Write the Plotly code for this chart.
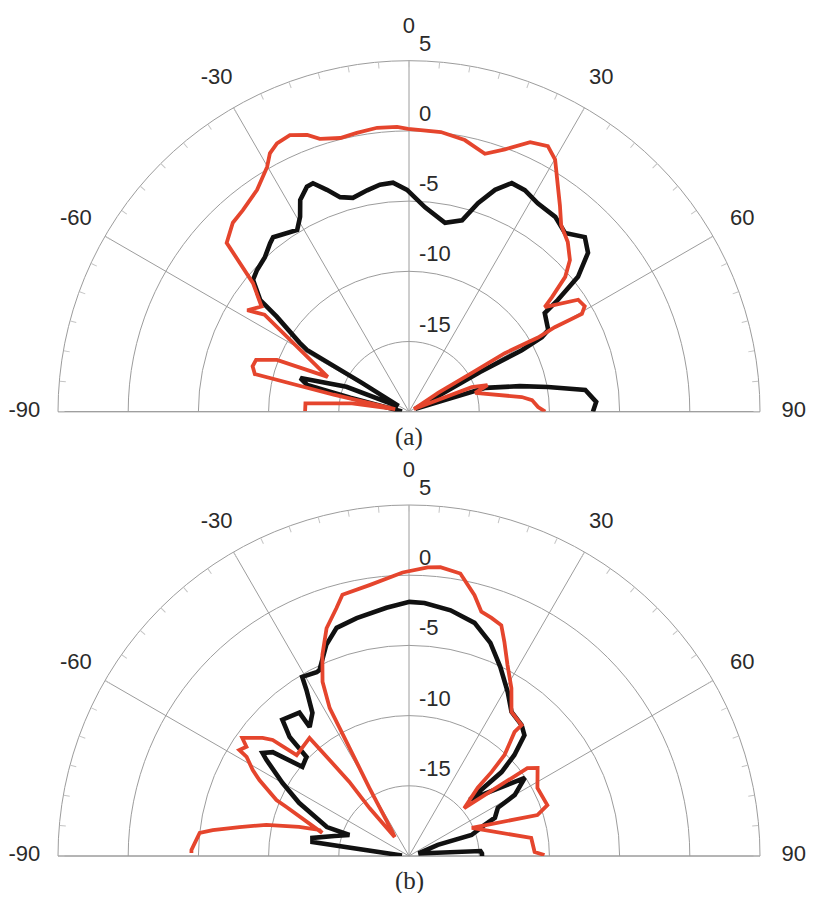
import plotly.graph_objects as go

# ---------------- data (angle in degrees, level in dB) ----------------
# panel (a)
theta_a_red = [-89.6, -85.4, -81.6, -79.3, -77.3, -76.3, -73.8, -71.3, -68.6, -66.8,
               -56.1, -57.9, -54.5, -50.5, -47.2, -43.0, -39.5, -34.4, -30.1, -28.3,
               -26.2, -23.3, -20.2, -18.1, -14.1, -10.6, -6.4, -2.4, -0.2, 6.5,
               11.6, 16.4, 20.1, 24.2, 27.6, 30.1, 33.3, 36.2, 39.2, 43.1,
               46.7, 49.2, 51.3, 52.4, 56.5, 59.0, 60.5, 59.9, 60.1, 58.6,
               58.4, 57.2, 62.0, 68.6, 71.3, 74.2, 82.6, 84.6, 87.9, 90.0]
r_a_red = [-12.6, -12.6, -15.9, -19.0, -14.5, -8.7, -8.4, -8.5, -9.9, -13.7,
           -7.6, -6.4, -7.1, -5.6, -2.3, -1.6, -1.4, -0.85, 0.15, 0.9,
           1.3, 1.45, 1.0, 0.45, 0.1, 0.2, 0.35, 0.3, 0.15, 0.05,
           -0.25, -0.85, -0.1, 1.05, 1.35, 0.75, -0.7, -1.8, -2.85, -3.45,
           -4.25, -5.3, -6.95, -7.8, -5.55, -5.4, -5.85, -8.0, -9.4, -12.0,
           -14.7, -17.5, -19.6, -15.2, -14.1, -15.1, -11.9, -11.2, -10.8, -10.3]

theta_a_black = [-88.0, -76.5, -75.3, -72.8, -68.3, -64.0, -60.5, -58.5, -58.8, -57.8,
                 -54.3, -53.1, -49.8, -47.0, -43.0, -39.5, -37.9, -34.3, -31.6, -29.2,
                 -27.2, -24.4, -22.8, -20.3, -17.8, -14.7, -10.7, -7.3, -4.0, -0.5,
                 4.5, 10.8, 15.5, 18.3, 21.2, 24.2, 27.6, 31.7, 36.9, 41.1,
                 45.2, 48.4, 51.4, 53.1, 54.0, 59.6, 60.7, 61.4, 60.8, 61.7,
                 66.0, 72.7, 77.0, 79.9, 83.0, 87.0, 90.0]
r_a_black = [-19.5, -15.7, -12.5, -11.9, -15.2, -19.0, -19.0, -16.0, -11.5, -10.8,
             -8.4, -6.75, -5.45, -5.2, -4.95, -4.45, -4.25, -4.6, -4.8, -4.1,
             -3.05, -2.4, -2.35, -3.15, -3.95, -4.25, -3.95, -3.7, -3.65, -4.2,
             -5.4, -6.3, -5.85, -4.35, -3.05, -2.15, -2.2, -2.55, -2.65, -3.1,
             -2.35, -2.95, -4.6, -6.75, -8.05, -8.5, -9.15, -10.85, -14.2, -17.5,
             -19.5, -14.3, -11.9, -9.95, -7.35, -6.65, -6.9]

# panel (b)
theta_b_red = [-89.2, -88.4, -83.7, -82.5, -80.3, -77.7, -75.2, -73.8, -75.1, -68.2,
               -67.1, -63.1, -61.2, -58.6, -58.0, -56.1, -54.7, -51.1, -49.6, -48.1,
               -40.1, -38.8, -39.5, -37.0, -34.5, -30.2, -28.7, -28.2, -26.4, -23.3,
               -19.9, -16.3, -14.3, -8.3, -1.3, 3.7, 6.2, 10.3, 14.1, 16.5,
               19.1, 21.8, 24.0, 27.3, 31.4, 35.4, 40.7, 40.4, 43.4, 44.5,
               45.2, 49.1, 53.4, 55.6, 62.1, 69.8, 72.3, 65.9, 81.6, 88.2, 89.6]
r_b_red = [-4.5, -4.5, -5.0, -5.9, -7.75, -9.6, -11.9, -13.35, -13.6, -10.6,
           -9.75, -8.05, -7.3, -6.45, -5.75, -6.05, -5.45, -6.6, -7.25, -9.25,
           -9.0, -13.2, -15.6, -18.3, -17.9, -14.4, -10.75, -8.05, -6.15, -4.4,
           -2.75, -1.6, -0.8, -0.5, 0.2, 0.6, 0.7, 0.45, -0.85, -1.85,
           -2.05, -2.3, -3.3, -4.7, -6.0, -7.4, -7.7, -8.4, -10.1, -11.6,
           -13.1, -14.8, -9.5, -8.9, -9.65, -9.5, -10.4, -15.1, -11.2, -11.05, -10.35]

theta_b_black = [-86.0, -81.7, -79.4, -75.0, -70.6, -70.6, -64.2, -60.0, -56.0, -54.9,
                 -52.7, -50.1, -46.0, -45.1, -42.9, -37.4, -37.6, -34.0, -31.7, -30.8,
                 -26.7, -25.7, -21.4, -17.6, -12.4, -5.2, 0.1, 3.5, 9.6, 15.7,
                 20.9, 25.8, 28.8, 31.0, 35.4, 40.7, 43.7, 46.2, 47.8, 47.2,
                 56.0, 60.0, 61.5, 66.0, 67.7, 71.4, 68.9, 75.0, 86.0, 88.0, 90.0]
r_b_black = [-19.5, -13.05, -13.0, -14.5, -15.5, -13.8, -11.3, -9.6, -7.75, -7.25,
             -7.8, -10.1, -9.85, -8.0, -6.75, -7.15, -8.4, -7.7, -6.1, -5.15,
             -5.35, -5.3, -3.85, -2.95, -2.65, -2.25, -1.9, -1.95, -2.25, -2.75,
             -3.75, -5.05, -5.85, -6.35, -7.4, -7.7, -8.1, -9.6, -11.1, -14.1,
             -10.05, -11.3, -12.8, -13.3, -14.2, -15.3, -17.8, -19.3, -14.9, -14.8, -14.8]

# axes / ticks
R_MIN, R_MAX = -20, 5
ring_vals = [-15, -10, -5, 0, 5]
ring_text = ["-15", "-10", "-5", "0", "5"]
ang_vals = [-90, -60, -30, 0, 30, 60, 90]
ang_text = ["-90", "-60", "-30", "0", "30", "60", "90"]
minor_vals = list(range(-90, 91, 5))
ANG_LABEL_R = 7.4      # radius (dB units) where angle labels sit
RING_LABEL_UP = 1.1    # radial shift of ring labels above their ring (dB units)
RING_LABEL_DX = 10     # px shift of the ring-label frame to the right
panel_labels = ["(a)", "(b)"]

# ---------------- styling ----------------
RED = "#E5452D"
BLACK = "#111111"
GRID = "#9c9c9c"
TXT = "#2a2a2a"
SANS = "Liberation Sans, Arial, sans-serif"
SERIF = "Liberation Serif, Times New Roman, serif"
FS = 22

fig = go.Figure()


def add_panel(sub, minor_sub, label_sub, ring_sub, tr, rr, tb, rb):
    fig.add_trace(go.Scatterpolar(theta=tb, r=rb, mode="lines", subplot=sub,
                                  line=dict(color=BLACK, width=4.6), showlegend=False))
    fig.add_trace(go.Scatterpolar(theta=tr, r=rr, mode="lines", subplot=sub,
                                  line=dict(color=RED, width=3.8), showlegend=False))
    # invisible anchor so the minor-tick overlay is drawn
    fig.add_trace(go.Scatterpolar(theta=[0], r=[R_MIN], mode="markers", subplot=minor_sub,
                                  marker=dict(size=1, opacity=0), showlegend=False,
                                  hoverinfo="skip"))
    # ring labels
    fig.add_trace(go.Scatterpolar(theta=[0] * len(ring_vals),
                                  r=[v + RING_LABEL_UP for v in ring_vals], mode="text",
                                  text=ring_text, textposition="middle right", subplot=ring_sub,
                                  cliponaxis=False, showlegend=False,
                                  textfont=dict(family=SANS, size=FS, color=TXT)))
    # angle labels
    fig.add_trace(go.Scatterpolar(theta=ang_vals, r=[ANG_LABEL_R] * len(ang_vals), mode="text",
                                  text=ang_text, textposition="middle center", subplot=label_sub,
                                  cliponaxis=False, showlegend=False,
                                  textfont=dict(family=SANS, size=FS, color=TXT)))


add_panel("polar", "polar3", "polar5", "polar7", theta_a_red, r_a_red, theta_a_black, r_a_black)
add_panel("polar2", "polar4", "polar6", "polar8", theta_b_red, r_b_red, theta_b_black, r_b_black)

# page is offset by the 8px body margin
OFF = 8
W, H = 816 - 2 * OFF, 901 - 2 * OFF
cx = 409.0 - OFF
cy_a = 411.7 - OFF
cy_b = 856.0 - OFF
k = 351.0 / (R_MAX - R_MIN)          # px per dB
rad = k * (R_MAX - R_MIN)
rad_lab = k * (ANG_LABEL_R - R_MIN)


def dom(cy, r, dx=0.0):
    return dict(x=[(cx + dx - r) / W, (cx + dx + r) / W], y=[1 - cy / H, 1 - (cy - r) / H])


def main_polar(cy):
    return dict(
        domain=dom(cy, rad), sector=[0, 180], bgcolor="rgba(0,0,0,0)",
        angularaxis=dict(rotation=90, direction="clockwise", tickvals=ang_vals,
                         showticklabels=False, ticks="", showgrid=True, gridcolor=GRID,
                         gridwidth=1, showline=True, linecolor=GRID, linewidth=1,
                         layer="below traces"),
        radialaxis=dict(range=[R_MIN, R_MAX], tickvals=ring_vals, showticklabels=False,
                        ticks="", showline=False, showgrid=True, gridcolor=GRID,
                        gridwidth=1, layer="below traces"),
    )


def minor_polar(cy):
    return dict(
        domain=dom(cy, rad), sector=[0, 180], bgcolor="rgba(0,0,0,0)",
        angularaxis=dict(rotation=90, direction="clockwise", tickvals=minor_vals,
                         showticklabels=False, ticks="inside", ticklen=6,
                         tickcolor="#c4c4c4", tickwidth=1, showgrid=False, showline=False),
        radialaxis=dict(range=[R_MIN, R_MAX], visible=False),
    )


def label_polar(cy, dx=0.0):
    # same px-per-dB scale as the main frame, but extended out to ANG_LABEL_R
    return dict(
        domain=dom(cy, rad_lab, dx), sector=[0, 180], bgcolor="rgba(0,0,0,0)",
        angularaxis=dict(rotation=90, direction="clockwise", visible=False),
        radialaxis=dict(range=[R_MIN, ANG_LABEL_R], visible=False),
    )


fig.update_layout(
    width=W, height=H, margin=dict(l=0, r=0, t=0, b=0),
    paper_bgcolor="white", plot_bgcolor="white", showlegend=False,
    polar=main_polar(cy_a), polar2=main_polar(cy_b),
    polar3=minor_polar(cy_a), polar4=minor_polar(cy_b),
    polar5=label_polar(cy_a), polar6=label_polar(cy_b),
    polar7=label_polar(cy_a, RING_LABEL_DX), polar8=label_polar(cy_b, RING_LABEL_DX),
    annotations=[
        dict(text=panel_labels[0], x=cx / W, y=1 - (437 - OFF) / H, xref="paper", yref="paper",
             xanchor="center", yanchor="middle", showarrow=False,
             font=dict(family=SERIF, size=25, color=TXT)),
        dict(text=panel_labels[1], x=cx / W, y=1 - (881 - OFF) / H, xref="paper", yref="paper",
             xanchor="center", yanchor="middle", showarrow=False,
             font=dict(family=SERIF, size=25, color=TXT)),
    ],
)

fig.write_html("out.html")
